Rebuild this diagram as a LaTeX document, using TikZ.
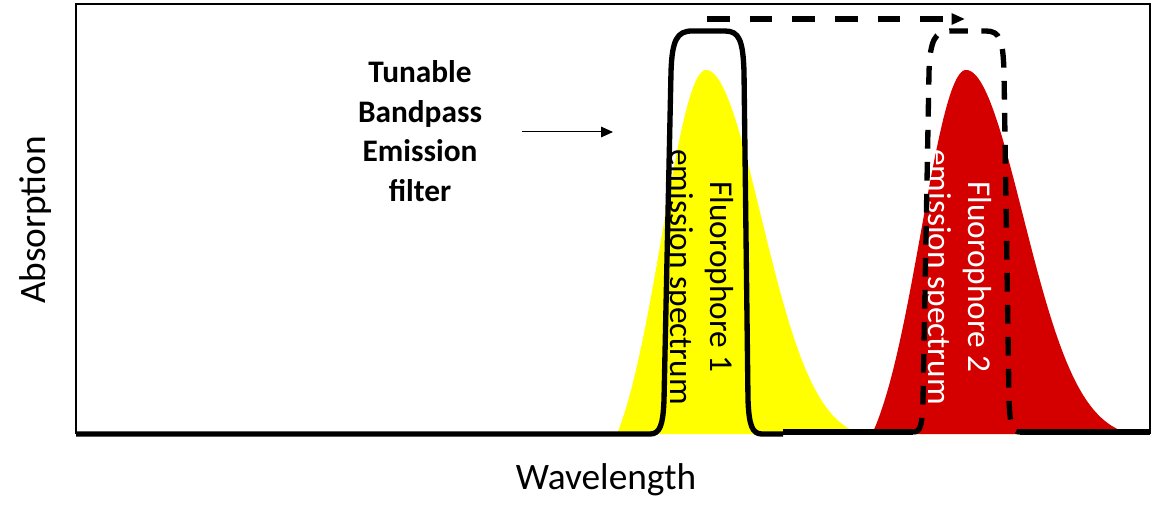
\documentclass[tikz,border=0pt]{standalone}
\usepackage{fontspec}
\setmainfont{Carlito}
\usetikzlibrary{
  arrows.meta
}
\definecolor{specyellow}{RGB}{255,255,0}
\definecolor{specred}{RGB}{212,0,0}
\pgfmathdeclarefunction{lobe}{3}{%
  \pgfmathparse{(exp(-0.5*(#1/#2)^2)-exp(-0.5*(#3/#2)^2))/(1-exp(-0.5*(#3/#2)^2))}}

\begin{document}
\begin{tikzpicture}[
    x=0.75pt, y=-0.75pt,
    frameline/.style = {line width=2pt},
    filterline/.style = {line width=4pt, line join=round},
    filterdash/.style = {dash pattern=on 14pt off 10pt},
    axistext/.style = {font=\fontsize{28}{32}\selectfont},
    titletext/.style = {font=\fontsize{23.5}{29.6}\selectfont\bfseries, align=center},
    spectext/.style = {font=\fontsize{25}{30}\selectfont, align=center}]
  \useasboundingbox (0,0) rectangle (1152,524);
  \fill[specyellow]
    plot[domain=617:706, samples=60] (\x, {434-364*lobe(\x-706,44,89)})
    -- plot[domain=706:860, samples=80] (\x, {434-364*lobe(\x-706,55,154)})
    -- cycle;
  \fill[specred]
    plot[domain=872:966, samples=60] (\x, {434-364*lobe(\x-966,45,94)})
    -- plot[domain=966:1130, samples=80] (\x, {434-364*lobe(\x-966,57,164)})
    -- cycle;
  \node[axistext, rotate=90] (ylab) at (36,220) {Absorption};
  \node[axistext] (xlab) at (606,480) {Wavelength};
  \node[titletext] (tbef) at (420,131) {Tunable\\Bandpass\\Emission\\filter};
  \node[spectext, rotate=-90] (fluo1) at (699,277) {Fluorophore 1\\emission spectrum};
  \node[spectext, rotate=-90, text=white] (fluo2) at (957,277) {Fluorophore 2\\emission spectrum};
  \draw[frameline] (76,434) -- (76,4) -- (1150,4) -- (1150,434);
  \draw[filterline] (76,434) -- (650,434)
    .. controls (660,434) and (663,425) .. (664,400) -- (671,72)
    .. controls (672,40) and (677,31) .. (692,31) -- (725,31)
    .. controls (739,31) and (743,40) .. (744,72) -- (748,400)
    .. controls (749,425) and (752,434) .. (762,434) -- (783,434);
  \draw[filterline] (783,432) -- (913,432);
  \draw[filterline, filterdash] (913,432)
    .. controls (921,432) and (922,425) .. (923,400) -- (929,72)
    .. controls (930,40) and (935,31) .. (950,31) -- (986,31)
    .. controls (1000,31) and (1003,40) .. (1004,72) -- (1009,400)
    .. controls (1010,425) and (1012,432) .. (1020,432);
  \draw[filterline] (1020,432) -- (1150,432);
  \coordinate (tip1) at (522,132);
  \coordinate (tip2) at (613,132);
  \draw[line width=0.75pt, -{Triangle[length=9pt,width=8pt]}] (tip1) -- (tip2);
  \coordinate (shift1) at (707,19);
  \coordinate (shift2) at (965,19);
  \draw[line width=4.5pt, dash pattern=on 17pt off 15pt, -{Triangle[length=10pt,width=8pt]}] (shift1) -- (shift2);
\end{tikzpicture}
\end{document}
